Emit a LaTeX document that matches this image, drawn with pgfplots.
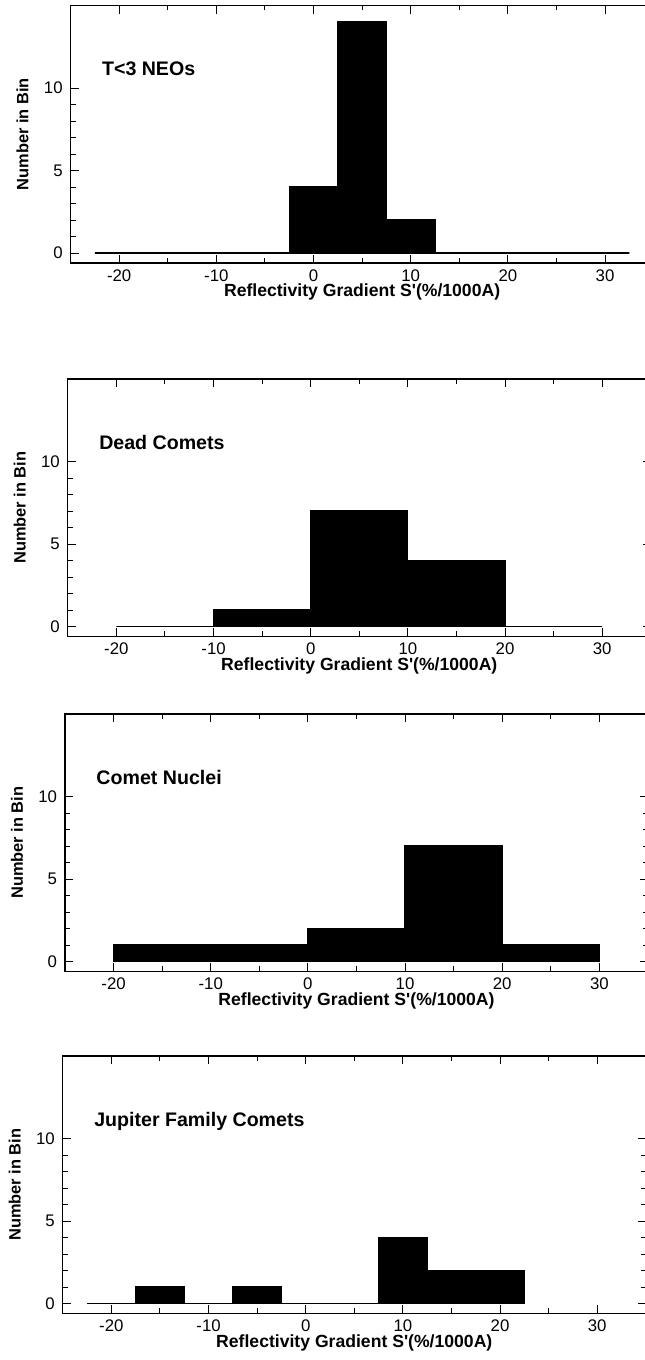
\documentclass[border=0pt]{standalone}
\usepackage{fontspec}
\setmainfont{Liberation Sans}
\usepackage{pgfplots}
\pgfplotsset{compat=1.18}
\pgfplotsset{
  histo/.style={
    scale only axis, width=291.5pt, height=128.7pt,
    anchor=north west,
    xmin=-25, xmax=35, ymin=-0.6, ymax=15,
    xtick={-20,-10,0,10,20,30}, xticklabels={-20,-10,0,10,20,30},
    minor x tick num=1,
    ytick={0,5,10}, yticklabels={0,5,10},
    minor y tick num=4,
    tick align=inside,
    major tick length=4pt, minor tick length=2.5pt,
    axis line style={line width=0.6pt},
    every tick/.style={black, line width=0.5pt},
    tick label style={font=\fontsize{8.4}{10}\selectfont},
    xticklabel style={anchor=base, inner sep=0pt, yshift=-9.2pt},
    yticklabel style={inner sep=0pt, xshift=-3.8pt},
    xlabel={Reflectivity Gradient S\textquotesingle(\%/1000A)},
    xlabel style={at={([yshift=-17pt]rel axis cs:0.5,0)}, anchor=base, inner sep=0pt, font=\fontsize{8.8}{10}\selectfont\bfseries},
    ylabel={Number in Bin},
    ylabel style={at={([xshift=-24pt]rel axis cs:0,0.5)}, anchor=center, inner sep=0pt, font=\fontsize{8.2}{10}\selectfont\bfseries},
  },
  bars/.style={ybar interval, fill=black, draw=black, line width=0.6pt},
}
\newcommand{\ttl}[1]{\node[anchor=base west, inner sep=0pt, font=\fontsize{9.8}{11}\selectfont\bfseries] at (axis cs:-21.8,10.75) {#1};}
\begin{document}
\begin{tikzpicture}
\useasboundingbox (0,0) rectangle (322pt,-680pt);
\begin{axis}[histo, at={(35.3pt,-2.75pt)}]
\addplot[bars] coordinates {(-22.5,0) (-17.5,0) (-12.5,0) (-7.5,0) (-2.5,4) (2.5,14) (7.5,2) (12.5,0) (17.5,0) (22.5,0) (27.5,0) (32.5,0)};
\ttl{T<3 NEOs}
\end{axis}
\begin{axis}[histo, at={(33.9pt,-189.5pt)}]
\addplot[bars] coordinates {(-20,0) (-10,1) (0,7) (10,4) (20,0) (30,0)};
\ttl{Dead Comets}
\end{axis}
\begin{axis}[histo, at={(32.5pt,-357pt)}]
\addplot[bars] coordinates {(-20,1) (-10,1) (0,2) (10,7) (20,1) (30,0)};
\ttl{Comet Nuclei}
\end{axis}
\begin{axis}[histo, at={(31.4pt,-528pt)}]
\addplot[bars] coordinates {(-22.5,0) (-17.5,1) (-12.5,0) (-7.5,1) (-2.5,0) (2.5,0) (7.5,4) (12.5,2) (17.5,2) (22.5,0)};
\ttl{Jupiter Family Comets}
\end{axis}
\end{tikzpicture}
\end{document}
